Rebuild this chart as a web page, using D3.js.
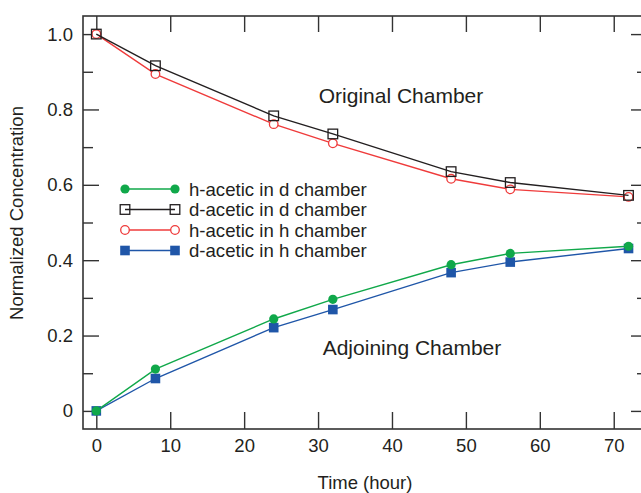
<!DOCTYPE html>
<html>
<head>
<meta charset="utf-8">
<script src="https://cdn.jsdelivr.net/npm/d3@7"></script>
<style>
  html, body { margin: 0; padding: 0; background: #fff; }
  svg { display: block; font-family: "Liberation Sans", Arial, sans-serif; }
</style>
</head>
<body>
<svg id="chart" width="641" height="493"></svg>
<script>
const hours = [0, 8, 24, 32, 48, 56, 72];

const hAceticInD = [0, 0.111, 0.244, 0.296, 0.388, 0.418, 0.437];
const dAceticInD = [1.0, 0.916, 0.783, 0.735, 0.635, 0.606, 0.572];
const hAceticInH = [1.0, 0.894, 0.761, 0.710, 0.616, 0.588, 0.568];
const dAceticInH = [0, 0.086, 0.221, 0.269, 0.367, 0.395, 0.431];

const xTicks = [0, 10, 20, 30, 40, 50, 60, 70];
const yTicks = [0, 0.2, 0.4, 0.6, 0.8, 1.0];
const yMinorTicks = [0.1, 0.3, 0.5, 0.7, 0.9];

const series = [
  { name: "h-acetic in d chamber", values: hAceticInD, color: "#10a84a", marker: "circle", filled: true },
  { name: "d-acetic in d chamber", values: dAceticInD, color: "#231f20", marker: "square", filled: false },
  { name: "h-acetic in h chamber", values: hAceticInH, color: "#ef3b3b", marker: "circle", filled: false },
  { name: "d-acetic in h chamber", values: dAceticInH, color: "#1f56a8", marker: "square", filled: true },
];

const svg = d3.select("#chart");
const axisColor = "#333";
const textColor = "#231f20";

const x = d3.scaleLinear().domain([-1.8, 74.5]).range([83, 647]);
const y = d3.scaleLinear().domain([-0.048, 1.048]).range([429, 16]);

// frame
const [x0, x1] = x.range();
const [yb, yt] = y.range();
svg.append("rect")
  .attr("x", x0).attr("y", yt)
  .attr("width", x1 - x0).attr("height", yb - yt)
  .attr("fill", "none")
  .attr("stroke", axisColor)
  .attr("stroke-width", 1.6);

// axes with inward ticks
const fmtY = (d) => (d === 0 ? "0" : d3.format(".1f")(d));

const bottomAxis = svg.append("g")
  .attr("transform", `translate(0,${yb})`)
  .call(d3.axisBottom(x).tickValues(xTicks).tickSizeInner(-17).tickSizeOuter(0).tickPadding(10));
const topAxis = svg.append("g")
  .attr("transform", `translate(0,${yt})`)
  .call(d3.axisTop(x).tickValues(xTicks).tickSizeInner(-16).tickSizeOuter(0).tickFormat(""));
const leftAxis = svg.append("g")
  .attr("transform", `translate(${x0},0)`)
  .call(d3.axisLeft(y).tickValues(yTicks).tickSizeInner(-16).tickSizeOuter(0).tickPadding(10).tickFormat(fmtY));
const leftMinor = svg.append("g")
  .attr("transform", `translate(${x0},0)`)
  .call(d3.axisLeft(y).tickValues(yMinorTicks).tickSizeInner(-10).tickSizeOuter(0).tickFormat(""));
const rightAxis = svg.append("g")
  .attr("transform", `translate(${x1},0)`)
  .call(d3.axisRight(y).tickValues(yTicks).tickSizeInner(-16).tickSizeOuter(0).tickFormat(""));
const rightMinor = svg.append("g")
  .attr("transform", `translate(${x1},0)`)
  .call(d3.axisRight(y).tickValues(yMinorTicks).tickSizeInner(-10).tickSizeOuter(0).tickFormat(""));

[bottomAxis, topAxis, leftAxis, leftMinor, rightAxis, rightMinor].forEach((g) => {
  g.select(".domain").remove();
  g.selectAll(".tick line").attr("stroke", axisColor).attr("stroke-width", 1.4);
  g.selectAll(".tick text")
    .attr("fill", textColor)
    .style("font-size", "18.5px")
    .style("font-family", "'Liberation Sans', Arial, sans-serif");
});

// axis titles
svg.append("text")
  .attr("x", 365).attr("y", 489)
  .attr("text-anchor", "middle")
  .attr("fill", textColor)
  .style("font-size", "18.5px")
  .text("Time (hour)");

svg.append("text")
  .attr("transform", "translate(23,213) rotate(-90)")
  .attr("text-anchor", "middle")
  .attr("fill", textColor)
  .style("font-size", "18.5px")
  .text("Normalized Concentration");

// markers
function drawMarker(g, s, cx, cy) {
  if (s.marker === "circle") {
    g.append("circle")
      .attr("cx", cx).attr("cy", cy).attr("r", s.filled ? 4.6 : 4.3)
      .attr("fill", s.filled ? s.color : "#fff")
      .attr("stroke", s.color)
      .attr("stroke-width", s.filled ? 0 : 1.3);
  } else {
    const half = s.filled ? 4.8 : 4.8;
    g.append("rect")
      .attr("x", cx - half).attr("y", cy - half)
      .attr("width", half * 2).attr("height", half * 2)
      .attr("fill", s.filled ? s.color : "none")
      .attr("stroke", s.color)
      .attr("stroke-width", s.filled ? 0 : 1.3);
  }
}

const line = d3.line()
  .x((d) => x(d[0]))
  .y((d) => y(d[1]));

// draw order: lower lines first, black on top of red
const drawOrder = [3, 0, 2, 1];
drawOrder.forEach((i) => {
  const s = series[i];
  const pts = hours.map((h, k) => [h, s.values[k]]);
  const g = svg.append("g");
  g.append("path")
    .datum(pts)
    .attr("d", line)
    .attr("fill", "none")
    .attr("stroke", s.color)
    .attr("stroke-width", 1.4);
  pts.forEach((p) => drawMarker(g, s, x(p[0]), y(p[1])));
});

// annotations
svg.append("text")
  .attr("x", 401).attr("y", 103)
  .attr("text-anchor", "middle")
  .attr("fill", textColor)
  .style("font-size", "21px")
  .text("Original Chamber");

svg.append("text")
  .attr("x", 412).attr("y", 355)
  .attr("text-anchor", "middle")
  .attr("fill", textColor)
  .style("font-size", "21px")
  .text("Adjoining Chamber");

// legend
const legend = svg.append("g");
series.forEach((s, i) => {
  const ly = 189 + i * 20.5;
  const row = legend.append("g");
  row.append("line")
    .attr("x1", 125).attr("x2", 175)
    .attr("y1", ly).attr("y2", ly)
    .attr("stroke", s.color)
    .attr("stroke-width", 1.4);
  drawMarker(row, s, 125, ly);
  drawMarker(row, s, 175, ly);
  row.append("text")
    .attr("x", 189).attr("y", ly)
    .attr("dy", "0.35em")
    .attr("fill", textColor)
    .style("font-size", "18.6px")
    .text(s.name);
});
</script>
</body>
</html>
